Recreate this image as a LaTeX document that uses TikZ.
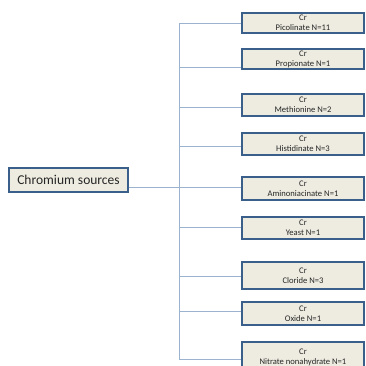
\documentclass[tikz,border=0pt]{standalone}
\usepackage{fontspec}
\setmainfont{Carlito}
\usepackage{tikz}

\definecolor{boxfill}{HTML}{EEECE1}
\definecolor{boxline}{HTML}{3A5F8B}
\definecolor{linkline}{HTML}{9BB3CF}
\definecolor{txt}{HTML}{262626}

\tikzset{
    source/.style={draw=boxline, fill=boxfill, line width=1.2pt, text=txt,
        minimum width=119pt, minimum height=24pt, font=\fontsize{13.5}{15}\selectfont},
    kind/.style={draw=boxline, fill=boxfill, line width=1.2pt, text=txt, align=center,
        minimum width=122pt, inner sep=0.3pt, font=\fontsize{8.6}{10}\selectfont},
    link/.style={draw=linkline, line width=0.8pt}
}

\begin{document}
\begin{tikzpicture}[x=1pt,y=-1pt]
    \useasboundingbox (0,0) rectangle (365,366);

    % Nodes
    \node[source] (root) at (68.5,180) {Chromium sources};
    \foreach \i/\y/\h/\txt in {
        1/23/20/Picolinate N=11,
        2/59/20/Propionate N=1,
        3/105/22/Methionine N=2,
        4/144/22/Histidinate N=3,
        5/188.5/23/Aminoniacinate N=1,
        6/228/22/Yeast N=1,
        7/275.5/27/Cloride N=3,
        8/313.5/23/Oxide N=1,
        9/357/30/Nitrate nonahydrate N=1}
        \node[kind, minimum height=\h pt] (c\i) at (303,\y) {Cr\\\txt};

    % Joints on the bus
    \coordinate (j0) at (179,187);
    \foreach \i/\ly in {1/23,2/67,3/107,4/146,5/187,6/227,7/276,8/311,9/359}
        \coordinate (j\i) at (179,\ly);

    % Lines
    \draw[link] (root.east |- j0) -- (j0);
    \draw[link] (j1) -- (j9);
    \foreach \i in {1,...,9}
        \draw[link] (j\i) -- (j\i -| c\i.west);

\end{tikzpicture}
\end{document}
